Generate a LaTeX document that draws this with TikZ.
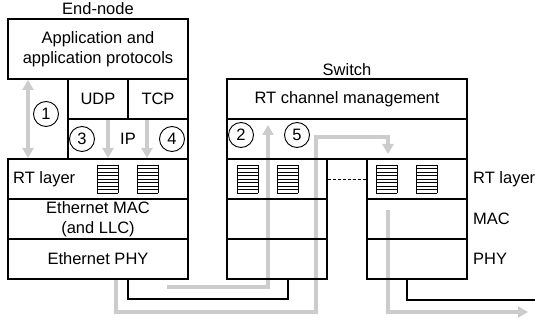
\documentclass[tikz,border=0pt]{standalone}
\usepackage{fontspec}
\setmainfont{Liberation Sans}
\usetikzlibrary{arrows.meta}
\definecolor{lg}{RGB}{204,204,204}
\begin{document}
\begin{tikzpicture}[x=1pt,y=-1pt,
  every node/.style={font=\fontsize{16.5}{19.5}\selectfont},
  box/.style={draw,line width=1.1pt,inner sep=0pt,align=center},
  bw/.style={minimum width=#1},
  bh/.style={minimum height=#1},
  num/.style={draw,circle,line width=0.9pt,minimum size=25pt,inner sep=0pt},
  lbl/.style={inner sep=0pt,anchor=west},
  garrow/.style={draw=lg,line width=3.6pt,-{Triangle[length=10pt,width=11pt]}},
  gline/.style={draw=lg,line width=3.6pt},
  cable/.style={draw,line width=1.1pt},
  queue/.pic={
    \foreach \i in {0,...,8} \draw[line width=0.6pt] (0,3.5*\i)--(21,3.5*\i);
    \draw[line width=0.9pt] (0,0)--(0,28) (21,0)--(21,28);
  }]
\useasboundingbox (0,0) rectangle (535,320);

% ---------- coordinates for grey paths ----------
\coordinate (a1t) at (28,80);
\coordinate (a1b) at (28,158);
\coordinate (a3t) at (108,119);
\coordinate (a3b) at (108,158);
\coordinate (a4t) at (147,119);
\coordinate (a4b) at (147,158);
\coordinate (p5s) at (116,279);
\coordinate (p5a) at (116,312);
\coordinate (p5b) at (316,137);
\coordinate (p5c) at (388,154);
\coordinate (p2s) at (167,287);
\coordinate (p2t) at (268,125);
\coordinate (p6s) at (388,210);
\coordinate (p6t) at (528,312);

% ---------- grey paths (behind boxes) ----------
\draw[draw=lg,line width=3.6pt,{Triangle[length=10pt,width=11pt]}-{Triangle[length=10pt,width=11pt]}] (a1t) -- (a1b);
\draw[garrow] (a3t) -- (a3b);
\draw[garrow] (a4t) -- (a4b);
\draw[garrow] (p5s) -- (p5a) -| (p5b) -| (p5c);
\draw[garrow] (p2s) -| (p2t);
\draw[garrow] (p6s) |- (p6t);

% ---------- End-node ----------
\node (endlbl) at (98,9) {End-node};
\node[box,bw=180pt,bh=60pt] (appE) at (98,49) {Application and\\application protocols};
\node[box,bw=60pt,bh=40pt] (udp) at (98,99) {UDP};
\node[box,bw=60pt,bh=40pt] (tcp) at (158,99) {TCP};
\node[box,bw=120pt,bh=40pt] (ip) at (128,139) {IP};
\node[box,bw=180pt,bh=40pt] (rtE) at (98,179) {};
\node[lbl] (rtEl) at (13,179) {RT layer};
\node[box,bw=180pt,bh=40pt] (macE) at (98,219) {Ethernet MAC\\(and LLC)};
\node[box,bw=180pt,bh=40pt] (phyE) at (98,259) {Ethernet PHY};
\pic at (97,165) {queue};
\pic at (137,165) {queue};

\node[num] (c1) at (46,114) {1};
\node[num] (c3) at (82,139) {3};
\node[num] (c4) at (172,139) {4};

% ---------- Switch ----------
\node (swlbl) at (347,70) {Switch};
\node[box,bw=240pt,bh=40pt] (rtcm) at (347,99) {RT channel management};
\node[box,bw=240pt,bh=40pt] (swmid) at (347,139) {};
\node[box,bw=100pt,bh=40pt] (rtL) at (277,179) {};
\node[box,bw=100pt,bh=40pt] (macL) at (277,219) {};
\node[box,bw=100pt,bh=40pt] (phyL) at (277,259) {};
\node[box,bw=100pt,bh=40pt] (rtR) at (417,179) {};
\node[box,bw=100pt,bh=40pt] (macR) at (417,219) {};
\node[box,bw=100pt,bh=40pt] (phyR) at (417,259) {};
\pic at (237,165) {queue};
\pic at (277,165) {queue};
\pic at (376,165) {queue};
\pic at (416,165) {queue};
\draw[densely dashed,line width=0.7pt] (rtL.east) -- (rtR.west);

\node[num] (c2) at (241,135) {2};
\node[num] (c5) at (297,135) {5};

\node[lbl] (rtRl) at (473,179) {RT layer};
\node[lbl] (macRl) at (473,219) {MAC};
\node[lbl] (phyRl) at (473,259) {PHY};

% ---------- cables ----------
\coordinate (cabE) at (128,299);
\coordinate (cabR) at (535,300);
\draw[cable] ([xshift=30pt]phyE.south) -- (cabE) -| ([xshift=11pt]phyL.south);
\draw[cable] ([xshift=-10pt]phyR.south) |- (cabR);
\end{tikzpicture}
\end{document}
